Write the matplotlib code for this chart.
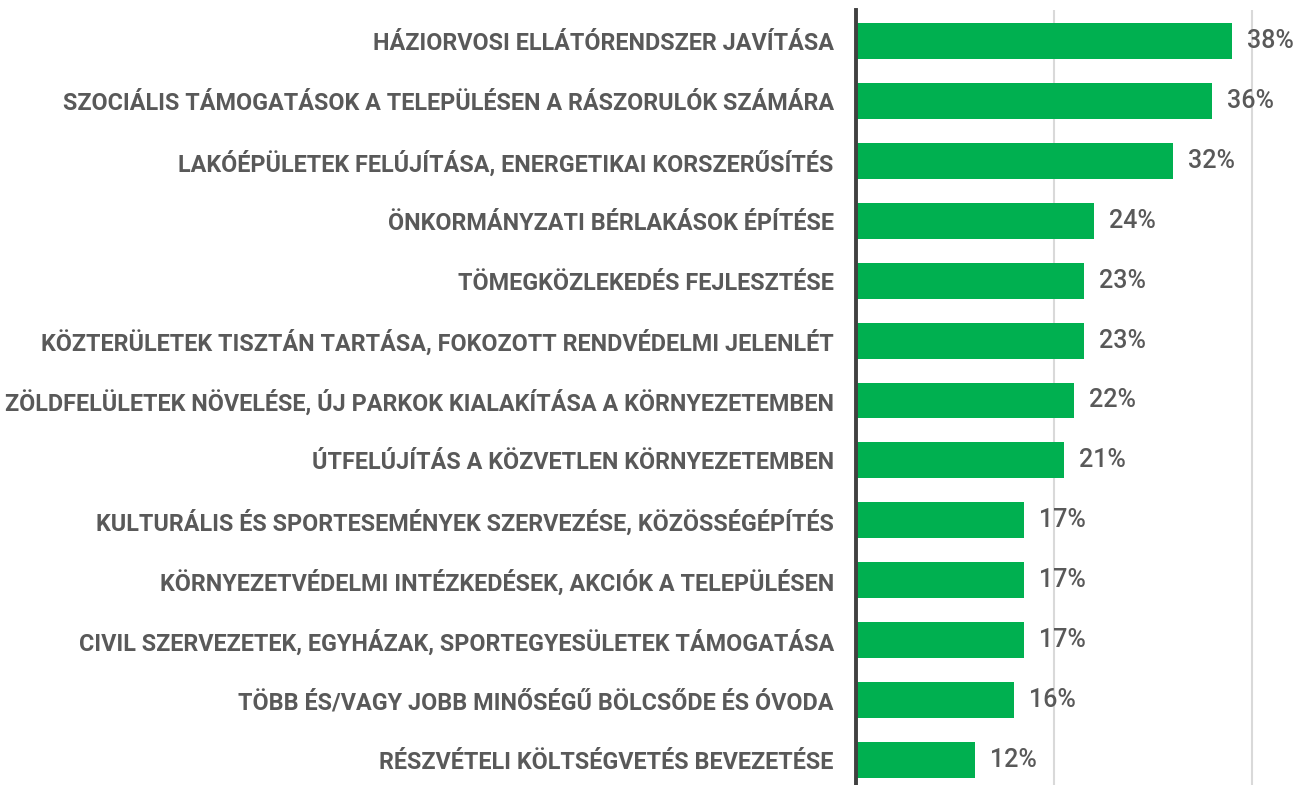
import matplotlib
matplotlib.use("Agg")
import matplotlib.pyplot as plt

categories = [
    "HÁZIORVOSI ELLÁTÓRENDSZER JAVÍTÁSA",
    "SZOCIÁLIS TÁMOGATÁSOK A TELEPÜLÉSEN A RÁSZORULÓK SZÁMÁRA",
    "LAKÓÉPÜLETEK FELÚJÍTÁSA, ENERGETIKAI KORSZERŰSÍTÉS",
    "ÖNKORMÁNYZATI BÉRLAKÁSOK ÉPÍTÉSE",
    "TÖMEGKÖZLEKEDÉS FEJLESZTÉSE",
    "KÖZTERÜLETEK TISZTÁN TARTÁSA, FOKOZOTT RENDVÉDELMI JELENLÉT",
    "ZÖLDFELÜLETEK NÖVELÉSE, ÚJ PARKOK KIALAKÍTÁSA A KÖRNYEZETEMBEN",
    "ÚTFELÚJÍTÁS A KÖZVETLEN KÖRNYEZETEMBEN",
    "KULTURÁLIS ÉS SPORTESEMÉNYEK SZERVEZÉSE, KÖZÖSSÉGÉPÍTÉS",
    "KÖRNYEZETVÉDELMI INTÉZKEDÉSEK, AKCIÓK A TELEPÜLÉSEN",
    "CIVIL SZERVEZETEK, EGYHÁZAK, SPORTEGYESÜLETEK TÁMOGATÁSA",
    "TÖBB ÉS/VAGY JOBB MINŐSÉGŰ BÖLCSŐDE ÉS ÓVODA",
    "RÉSZVÉTELI KÖLTSÉGVETÉS BEVEZETÉSE",
]
values = [0.38, 0.36, 0.32, 0.24, 0.23, 0.23, 0.22, 0.21, 0.17, 0.17, 0.17, 0.16, 0.12]
value_labels = ["38%", "36%", "32%", "24%", "23%", "23%", "22%", "21%", "17%", "17%", "17%", "16%", "12%"]
grid_ticks = [0.2, 0.4]

W, H = 1298, 785
fig = plt.figure(figsize=(W / 100, H / 100), dpi=100)
ax = fig.add_axes([856 / W, 0.0, 1 - 856 / W, (785 - 10) / H])

ypos = list(range(len(categories)))
ax.barh(ypos, values, height=0.6, color="#00B050", zorder=3)
ax.set_ylim(len(categories) - 1 + 0.417, -0.517)
ax.set_xlim(0, 0.4 + 46 / 990)

for y, v, lab in zip(ypos, values, value_labels):
    ax.annotate(lab, (v, y), xytext=(15, 0), textcoords="offset pixels",
                va="center", ha="left", fontsize=18, color="#595959",
                fontfamily="Roboto", fontweight="medium")

ax.set_yticks(ypos)
ax.set_yticklabels(categories, fontfamily="Roboto", fontweight="bold",
                   fontsize=16.8, color="#595959")
ax.tick_params(axis="y", length=0, pad=16)
ax.set_xticks(grid_ticks)
ax.tick_params(axis="x", length=0, labelbottom=False)
ax.grid(axis="x", color="#D9D9D9", linewidth=1.5, zorder=0)
for s in ["top", "right", "bottom"]:
    ax.spines[s].set_visible(False)
ax.spines["left"].set_color("#404040")
ax.spines["left"].set_linewidth(2.8)
ax.spines["left"].set_zorder(4)

fig.savefig("out.png", dpi=100)
